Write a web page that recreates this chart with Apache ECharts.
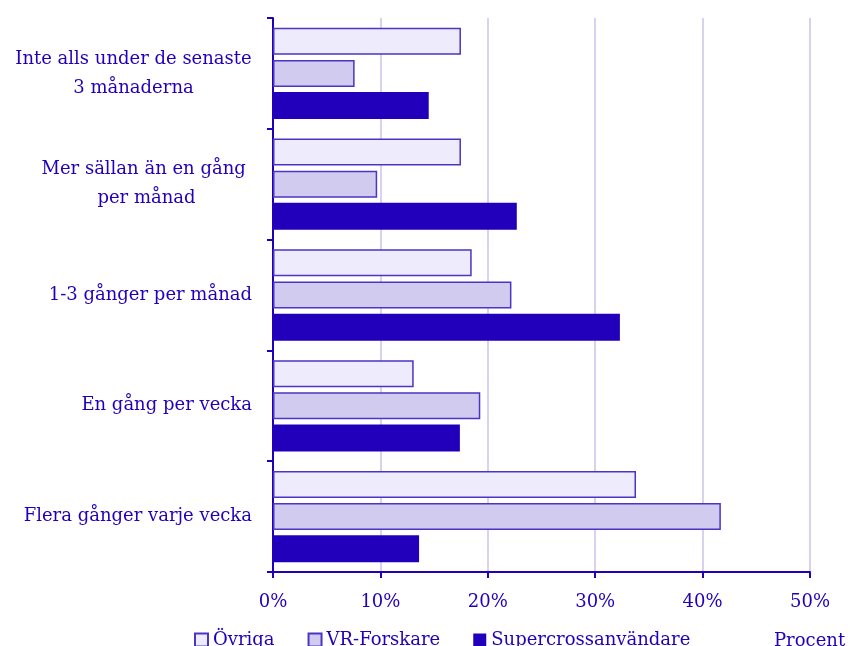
<!DOCTYPE html>
<html>
<head>
<meta charset="utf-8">
<script src="https://cdn.jsdelivr.net/npm/echarts@6/dist/echarts.min.js"></script>
<style>
  html, body { margin: 0; padding: 0; background: #fff; }
  #chart { width: 850px; height: 646px; }
</style>
</head>
<body>
<div id="chart"></div>
<script>
var categories = [
    "Inte alls under de senaste\n3 månaderna",
    "Mer sällan än en gång \nper månad",
    "1-3 gånger per månad",
    "En gång per vecka",
    "Flera gånger varje vecka"
];
var seriesNames = ["Övriga", "VR-Forskare", "Supercrossanvändare"];
var ovriga = [17.5, 17.5, 18.5, 13.1, 33.8];
var vrForskare = [7.6, 9.7, 22.2, 19.3, 41.7];
var supercross = [14.5, 22.7, 32.3, 17.4, 13.6];
var xTicks = [0, 10, 20, 30, 40, 50];

var ink = "#2200bb";
var fontFam = "DejaVu Serif";
var fontSize = 18;

// mäter radbredd så att flerradiga etiketter kan centreras radvis
var cv = document.createElement("canvas").getContext("2d");
cv.font = fontSize + "px '" + fontFam + "'";
function maxW(value) {
    var lines = value.split("\n");
    return Math.ceil(Math.max.apply(null, lines.map(function (l) { return cv.measureText(l).width; })));
}
var richCenter = {};
categories.forEach(function (c, i) {
    richCenter["c" + i] = { width: maxW(c), align: "center", color: ink, fontFamily: fontFam, fontSize: fontSize, lineHeight: 29 };
});

var chart = echarts.init(document.getElementById("chart"));

var option = {
    animation: false,
    textStyle: { fontFamily: fontFam, color: ink },
    grid: { left: 273, right: 40, top: 18, bottom: 74, containLabel: false },
    legend: {
        data: seriesNames,
        left: 189,
        top: 626,
        icon: "rect",
        itemWidth: 13,
        itemHeight: 13,
        itemGap: 33,
        textStyle: { color: ink, fontFamily: fontFam, fontSize: fontSize }
    },
    title: {
        text: "Procent",
        left: 769,
        top: 627,
        textStyle: { color: ink, fontFamily: fontFam, fontSize: fontSize, fontWeight: "normal" }
    },
    xAxis: {
        type: "value",
        min: 0,
        max: 50,
        interval: 10,
        axisLine: { show: true, lineStyle: { color: ink, width: 2 } },
        axisTick: { show: true, length: 6, lineStyle: { color: ink, width: 2 } },
        axisLabel: {
            color: ink, fontFamily: fontFam, fontSize: fontSize, margin: 21,
            formatter: function (v) { return xTicks.indexOf(v) >= 0 ? v + "%" : ""; }
        },
        splitLine: { show: true, lineStyle: { color: "#d6d3f0", width: 2 } }
    },
    yAxis: {
        type: "category",
        inverse: true,
        data: categories,
        axisLine: { show: true, lineStyle: { color: ink, width: 2 } },
        axisTick: { show: true, length: 6, lineStyle: { color: ink, width: 2 } },
        axisLabel: {
            color: ink, fontFamily: fontFam, fontSize: fontSize, margin: 21, lineHeight: 29,
            formatter: function (value, idx) {
                var lines = value.split("\n");
                if (lines.length < 2) return value;
                return lines.map(function (l) { return "{c" + idx + "|" + l + "}"; }).join("\n");
            },
            rich: richCenter
        }
    },
    series: [
        {
            name: seriesNames[0], type: "bar", data: ovriga,
            barWidth: 27, barGap: "19%",
            itemStyle: { color: "#eeecfc", borderColor: "#4a35c4", borderWidth: 1.5 }
        },
        {
            name: seriesNames[1], type: "bar", data: vrForskare,
            barWidth: 27, barGap: "19%",
            itemStyle: { color: "#d0cbef", borderColor: "#4a35c4", borderWidth: 1.5 }
        },
        {
            name: seriesNames[2], type: "bar", data: supercross,
            barWidth: 27, barGap: "19%",
            itemStyle: { color: ink }
        }
    ]
};

chart.setOption(option);
</script>
</body>
</html>
